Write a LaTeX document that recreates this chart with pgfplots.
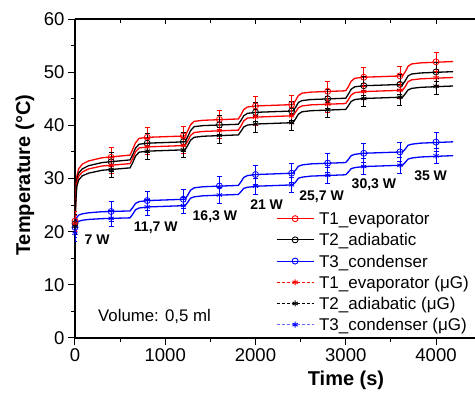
\documentclass[border=0pt]{standalone}
\usepackage{fontspec}
\setmainfont{Liberation Sans}
\usepackage{pgfplots}
\usepackage{pgfplotstable}
\pgfplotsset{compat=1.18}

\pgfplotstableread{
t a b c d e f
0 22.0 21.5 20.0 21.5 21.0 19.5
8 27.0 26.3 21.6 26.0 25.4 20.75
20 30.4 29.7 22.65 29.2 28.5 21.6
40 31.8 31.0 23.1 30.4 29.7 21.95
80 32.7 31.8 23.35 31.2 30.5 22.15
150 33.3 32.4 23.55 31.8 31.0 22.3
300 33.9 33.0 23.75 32.35 31.55 22.45
610 34.4 33.5 23.9 32.8 32.0 22.6
640 35.5 34.5 24.55 33.8 33.0 23.3
670 36.7 35.7 25.3 35.0 34.2 24.1
710 37.55 36.45 25.65 35.75 34.95 24.45
810 37.75 36.65 25.85 35.95 35.15 24.65
1220 38.0 36.9 26.1 36.2 35.4 24.9
1250 39.0 37.9 26.9 37.05 36.25 25.55
1280 40.1 39.0 27.8 38.1 37.2 26.3
1320 40.75 39.75 28.25 38.65 37.75 26.55
1420 40.95 39.95 28.45 38.85 37.95 26.75
1810 41.2 40.2 28.7 39.1 38.2 27.0
1840 42.0 40.95 29.4 39.9 38.9 27.55
1870 42.95 41.8 30.2 40.85 39.7 28.15
1910 43.45 42.25 30.55 41.35 40.05 28.35
2010 43.65 42.45 30.75 41.55 40.25 28.55
2415 43.9 42.7 31.0 41.8 40.5 28.8
2445 44.7 43.4 31.6 42.5 41.25 29.35
2475 45.6 44.3 32.3 43.3 42.1 30.05
2515 46.05 44.65 32.55 43.65 42.55 30.25
2615 46.25 44.85 32.75 43.85 42.75 30.45
3000 46.5 45.1 33.0 44.1 43.0 30.7
3030 47.3 45.9 33.6 44.85 43.7 31.25
3060 48.3 46.8 34.3 45.7 44.5 31.85
3100 48.85 47.25 34.55 46.15 44.85 32.05
3200 49.05 47.45 34.75 46.35 45.05 32.25
3630 49.3 47.7 35.0 46.6 45.3 32.5
3660 50.1 48.4 35.55 47.3 45.95 33.05
3690 51.1 49.3 36.25 48.2 46.65 33.65
3730 51.55 49.65 36.45 48.55 46.95 33.85
3830 51.75 49.85 36.65 48.75 47.15 34.05
4190 52.0 50.1 36.9 49.0 47.4 34.3
}\lines

\pgfplotstableread{
t a b c d e f es eu
0 22.0 21.5 20.8 21.5 21.0 19.7 1.8 1.5
400 34.0 33.15 23.8 32.5 31.7 22.5 1.8 1.5
800 37.75 36.65 25.85 35.95 35.15 24.65 1.8 1.5
1200 38.0 36.9 26.1 36.2 35.4 24.9 1.8 1.5
1600 41.1 40.1 28.6 39.0 38.1 26.9 1.8 1.5
2000 43.65 42.45 30.75 41.55 40.25 28.55 1.8 1.5
2400 43.9 42.7 31.0 41.8 40.5 28.8 1.8 1.5
2800 46.4 45.0 32.9 44.0 42.9 30.6 1.8 1.5
3200 49.05 47.45 34.75 46.35 45.05 32.25 1.8 1.5
3600 49.3 47.7 35.0 46.6 45.3 32.5 1.8 1.5
4000 51.95 50.05 36.85 48.95 47.35 34.25 1.8 1.5
}\marks

\pgfplotsset{
  curve/.style={line width=1.3pt, no marks, forget plot},
  emark/.style={only marks, mark size=3pt, line width=0.8pt, forget plot,
    error bars/y dir=both, error bars/y explicit,
    error bars/error bar style={line width=0.8pt},
    error bars/error mark options={rotate=90, mark size=2.5pt, line width=0.8pt}},
}

\begin{document}
\begin{tikzpicture}
\useasboundingbox (-75pt,-56pt) rectangle (400pt,338pt);
\begin{axis}[
  width=400pt, height=319pt, scale only axis,
  xmin=0, xmax=4432, ymin=0, ymax=60,
  axis x line*=bottom, axis y line*=left,
  axis line style={line width=1.2pt, -},
  tick align=outside,
  xtick={0,1000,2000,3000,4000}, ytick={0,10,...,60},
  minor x tick num=1, minor y tick num=1,
  major tick length=7pt, minor tick length=4pt,
  every tick/.style={line width=1pt, black},
  ticklabel style={font=\fontsize{18.5}{20}\selectfont},
  /pgf/number format/assume math mode=true,
  /pgf/number format/1000 sep={},
  scaled x ticks=false,
  xlabel={\textbf{Time (s)}},
  ylabel={\textbf{Temperature (°C)}},
  every axis x label/.style={at={(axis description cs:0.6775,0)}, yshift=-42pt, anchor=center, font=\fontsize{20}{22}\selectfont},
  every axis y label/.style={at={(axis description cs:0,0.51)}, xshift=-50pt, rotate=90, anchor=center, font=\fontsize{20}{22}\selectfont},
  legend style={draw=none, fill=none, at={(axis cs:2227,23.8)}, anchor=north west,
    inner sep=0pt, row sep=0pt, column sep=0pt,
    nodes={inner sep=0pt, text height=13pt, text depth=8.2pt, anchor=base west},
    font=\fontsize{17}{19}\selectfont},
  legend cell align=left,
  /tikz/every odd column/.append style={column sep=5pt},
  legend image code/.code={\draw[#1, mark repeat=2, mark phase=2] plot coordinates {(0pt,6pt)(18.5pt,6pt)(37pt,6pt)};},
]
% curves
\addplot[curve, red] table[x=t, y=a] {\lines};
\addplot[curve, black] table[x=t, y=b] {\lines};
\addplot[curve, blue] table[x=t, y=c] {\lines};
\addplot[curve, red] table[x=t, y=d] {\lines};
\addplot[curve, black] table[x=t, y=e] {\lines};
\addplot[curve, blue] table[x=t, y=f] {\lines};
% markers with error bars
\addplot[emark, red, mark=o] table[x=t, y=a, y error=es] {\marks};
\addplot[emark, black, mark=o] table[x=t, y=b, y error=es] {\marks};
\addplot[emark, blue, mark=o] table[x=t, y=c, y error=es] {\marks};
\addplot[emark, red, mark=asterisk] table[x=t, y=d, y error=eu] {\marks};
\addplot[emark, black, mark=asterisk] table[x=t, y=e, y error=eu] {\marks};
\addplot[emark, blue, mark=asterisk] table[x=t, y=f, y error=eu] {\marks};
% legend
\addlegendimage{red, line width=0.9pt, mark=o, mark size=3pt}
\addlegendentry{T1\_evaporator}
\addlegendimage{black, line width=0.9pt, mark=o, mark size=3pt}
\addlegendentry{T2\_adiabatic}
\addlegendimage{blue, line width=0.9pt, mark=o, mark size=3pt}
\addlegendentry{T3\_condenser}
\addlegendimage{red, line width=0.9pt, dash pattern=on 3pt off 2pt, mark=asterisk, mark size=3pt, mark options={solid}}
\addlegendentry{T1\_evaporator (μG)}
\addlegendimage{black, line width=0.9pt, dash pattern=on 3pt off 2pt, mark=asterisk, mark size=3pt, mark options={solid}}
\addlegendentry{T2\_adiabatic (μG)}
\addlegendimage{blue!60, line width=0.9pt, dash pattern=on 3pt off 2pt, mark=asterisk, mark size=3pt, mark options={solid, blue}}
\addlegendentry{T3\_condenser (μG)}
% annotations
\node[font=\bfseries\fontsize{14}{16}\selectfont] at (axis cs:245,18.4) {7 W};
\node[font=\bfseries\fontsize{14}{16}\selectfont] at (axis cs:895,20.7) {11,7 W};
\node[font=\bfseries\fontsize{14}{16}\selectfont] at (axis cs:1550,22.8) {16,3 W};
\node[font=\bfseries\fontsize{14}{16}\selectfont] at (axis cs:2123,25.0) {21 W};
\node[font=\bfseries\fontsize{14}{16}\selectfont] at (axis cs:2732,26.6) {25,7 W};
\node[font=\bfseries\fontsize{14}{16}\selectfont] at (axis cs:3312,28.8) {30,3 W};
\node[font=\bfseries\fontsize{14}{16}\selectfont] at (axis cs:3940,30.5) {35 W};
\node[anchor=west, inner sep=0pt, font=\fontsize{16.8}{18}\selectfont] at (axis cs:255,4.0) {Volume: 0,5 ml};
\end{axis}
\begin{axis}[
  width=400pt, height=319pt, scale only axis,
  xmin=0, xmax=4432, ymin=0, ymax=60,
  axis x line*=top, axis y line=none,
  axis line style={line width=1.2pt, -},
  tick align=inside,
  xtick={0,1000,2000,3000,4000}, minor x tick num=1,
  major tick length=5pt, minor tick length=4pt,
  every tick/.style={line width=1pt, black},
  xticklabels={},
]
\end{axis}
\end{tikzpicture}
\end{document}
